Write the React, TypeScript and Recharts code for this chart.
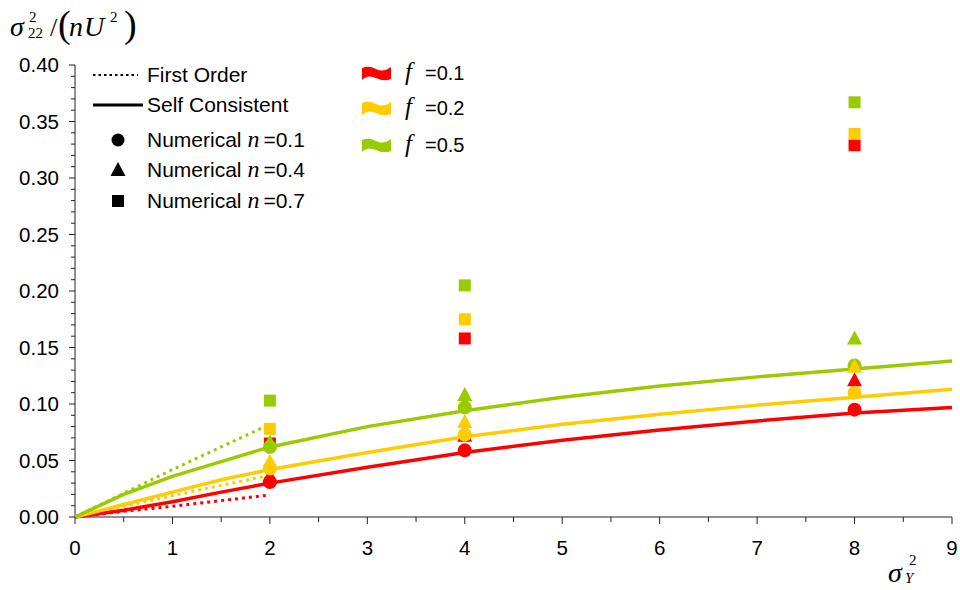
import React from "react"
import { ScatterChart, Scatter, XAxis, YAxis } from "recharts"

// sigma_Y^2 values for the curves
const xSelf = [0, 0.5, 1, 1.5, 2, 3, 4, 5, 6, 7, 8, 9]
const xFirst = [0, 0.5, 1, 1.5, 2]
const xNum = [2, 4, 8]

// self consistent (solid)
const selfRed = [0, 0.006, 0.0135, 0.022, 0.03, 0.044, 0.057, 0.068, 0.077, 0.085, 0.092, 0.097]
const selfYellow = [0, 0.011, 0.022, 0.033, 0.042, 0.057, 0.071, 0.082, 0.091, 0.099, 0.106, 0.113]
const selfGreen = [0, 0.02, 0.036, 0.049, 0.062, 0.08, 0.094, 0.106, 0.116, 0.124, 0.131, 0.138]

// first order (dotted)
const firstRed = [0, 0.005, 0.0095, 0.0145, 0.0195]
const firstYellow = [0, 0.0095, 0.019, 0.028, 0.037]
const firstGreen = [0, 0.021, 0.042, 0.062, 0.082]

// numerical, n = 0.1 (circle), 0.4 (triangle), 0.7 (square)
const circRed = [0.031, 0.059, 0.095]
const circYellow = [0.043, 0.073, 0.11]
const circGreen = [0.062, 0.097, 0.134]
const triRed = [0.036, 0.072, 0.121]
const triYellow = [0.049, 0.084, 0.133]
const triGreen = [0.066, 0.108, 0.158]
const sqRed = [0.065, 0.158, 0.329]
const sqYellow = [0.078, 0.175, 0.339]
const sqGreen = [0.103, 0.205, 0.367]

const xTicks = [0, 0.5, 1, 1.5, 2, 2.5, 3, 3.5, 4, 4.5, 5, 5.5, 6, 6.5, 7, 7.5, 8, 8.5, 9]
const yMajor = [0, 0.05, 0.1, 0.15, 0.2, 0.25, 0.3, 0.35, 0.4]
const yTicks = Array.from({ length: 41 }, (_, i) => i / 100)

const RED = "#FF0000"
const YELLOW = "#FFCC00"
const GREEN = "#99CC00"
const SANS = "'Liberation Sans', Arial, sans-serif"
const SERIF = "'Liberation Serif', 'Times New Roman', serif"

const pts = (xs: number[], ys: number[]) => xs.map((x, i) => ({ x, y: ys[i] }))

const NoDot = () => <g />
const CircleDot = (p: any) => <circle cx={p.cx} cy={p.cy} r={7} fill={p.fill} />
const TriDot = (p: any) => (
  <polygon points={`${p.cx},${p.cy - 8} ${p.cx + 7.5},${p.cy + 6} ${p.cx - 7.5},${p.cy + 6}`} fill={p.fill} />
)
const SquareDot = (p: any) => <rect x={p.cx - 6} y={p.cy - 6} width={12} height={12} fill={p.fill} />

const XTick = (p: any) => {
  const v = p.payload.value
  const major = Number.isInteger(v)
  return (
    <g>
      <line x1={p.x} x2={p.x} y1={p.y} y2={p.y + (major ? 7 : 5)} stroke="#222" />
      {major && (
        <text x={p.x} y={p.y + 38} textAnchor="middle" fontSize={20.5} fontFamily={SANS} fill="#000">
          {v}
        </text>
      )}
    </g>
  )
}

const YTick = (p: any) => {
  const v = p.payload.value
  const major = yMajor.some((m) => Math.abs(m - v) < 1e-6)
  return (
    <g>
      <line x1={p.x} x2={p.x - (major ? 6 : 4)} y1={p.y} y2={p.y} stroke="#222" />
      {major && (
        <text x={p.x - 16} y={p.y + 7} textAnchor="end" fontSize={20.5} fontFamily={SANS} fill="#000">
          {v.toFixed(2)}
        </text>
      )}
    </g>
  )
}

const Flag = ({ x, y, color }: { x: number; y: number; color: string }) => (
  <path
    d={`M${x},${y - 5} Q${x + 7},${y - 8} ${x + 14},${y - 4} T${x + 29},${y - 6} L${x + 29},${y + 6} Q${x + 22},${y + 9} ${x + 14},${y + 5} T${x},${y + 7} Z`}
    fill={color}
  />
)

const solid = (c: string) => ({ stroke: c, strokeWidth: 3.5 })
const dotted = (c: string) => ({ stroke: c, strokeWidth: 3, strokeDasharray: "3 4" })

export default function App() {
  return (
    <div style={{ position: "absolute", left: 0, top: 0, width: 960, height: 590, background: "#fff" }}>
      <ScatterChart width={960} height={590} margin={{ top: 65, right: 8, bottom: 0, left: 0 }}>
        <XAxis
          type="number"
          dataKey="x"
          domain={[0, 9]}
          ticks={xTicks}
          interval={0}
          height={73}
          tickSize={0}
          tickMargin={0}
          tickLine={false}
          axisLine={{ stroke: "#222" }}
          tick={XTick}
        />
        <YAxis
          type="number"
          dataKey="y"
          domain={[0, 0.4]}
          ticks={yTicks}
          interval={0}
          width={75}
          tickSize={0}
          tickMargin={0}
          tickLine={false}
          axisLine={{ stroke: "#222" }}
          tick={YTick}
        />
        <Scatter data={pts(xFirst, firstRed)} fill={RED} line={dotted(RED)} shape={NoDot} isAnimationActive={false} />
        <Scatter data={pts(xFirst, firstYellow)} fill={YELLOW} line={dotted(YELLOW)} shape={NoDot} isAnimationActive={false} />
        <Scatter data={pts(xFirst, firstGreen)} fill={GREEN} line={dotted(GREEN)} shape={NoDot} isAnimationActive={false} />
        <Scatter data={pts(xSelf, selfRed)} fill={RED} line={solid(RED)} shape={NoDot} isAnimationActive={false} />
        <Scatter data={pts(xSelf, selfYellow)} fill={YELLOW} line={solid(YELLOW)} shape={NoDot} isAnimationActive={false} />
        <Scatter data={pts(xSelf, selfGreen)} fill={GREEN} line={solid(GREEN)} shape={NoDot} isAnimationActive={false} />

        <Scatter data={pts(xNum, sqRed)} fill={RED} shape={SquareDot} isAnimationActive={false} />
        <Scatter data={pts(xNum, circRed)} fill={RED} shape={CircleDot} isAnimationActive={false} />
        <Scatter data={pts(xNum, triRed)} fill={RED} shape={TriDot} isAnimationActive={false} />
        <Scatter data={pts(xNum, sqGreen)} fill={GREEN} shape={SquareDot} isAnimationActive={false} />
        <Scatter data={pts(xNum, circGreen)} fill={GREEN} shape={CircleDot} isAnimationActive={false} />
        <Scatter data={pts(xNum, triGreen)} fill={GREEN} shape={TriDot} isAnimationActive={false} />
        <Scatter data={pts(xNum, sqYellow)} fill={YELLOW} shape={SquareDot} isAnimationActive={false} />
        <Scatter data={pts(xNum, circYellow)} fill={YELLOW} shape={CircleDot} isAnimationActive={false} />
        <Scatter data={pts(xNum, triYellow)} fill={YELLOW} shape={TriDot} isAnimationActive={false} />
      </ScatterChart>

      <svg width={960} height={590} style={{ position: "absolute", left: 0, top: 0, pointerEvents: "none" }}>
        {/* y axis title */}
        <g fontFamily={SERIF} fill="#000">
          <text x={10} y={36} fontSize={28} fontStyle="italic">σ</text>
          <text x={29} y={22} fontSize={15}>2</text>
          <text x={28} y={38} fontSize={15}>22</text>
          <text x={50} y={36} fontSize={26}>/</text>
          <text x={58} y={37} fontSize={38}>(</text>
          <text x={69} y={36} fontSize={28} fontStyle="italic">n</text>
          <text x={84} y={36} fontSize={28} fontStyle="italic">U</text>
          <text x={110} y={22} fontSize={15}>2</text>
          <text x={124} y={37} fontSize={38}>)</text>
        </g>
        {/* x axis title */}
        <g fontFamily={SERIF} fill="#000">
          <text x={888} y={582} fontSize={28} fontStyle="italic">σ</text>
          <text x={909} y={565} fontSize={15}>2</text>
          <text x={905} y={583} fontSize={15} fontStyle="italic">Y</text>
        </g>

        {/* line style legend */}
        <line x1={93} x2={138} y1={75} y2={75} stroke="#000" strokeWidth={2} strokeDasharray="2.5 3" />
        <line x1={93} x2={143} y1={105} y2={105} stroke="#000" strokeWidth={3} />
        <circle cx={118} cy={140} r={6.5} fill="#000" />
        <polygon points="118,162 125.5,176 110.5,176" fill="#000" />
        <rect x={112} y={195} width={12} height={12} fill="#000" />
        <g fontFamily={SANS} fontSize={21} fill="#000">
          <text x={147} y={82}>First Order</text>
          <text x={147} y={112}>Self Consistent</text>
          {["0.1", "0.4", "0.7"].map((n, i) => (
            <text key={n} x={147} y={[147, 177, 208][i]}>
              Numerical{" "}
              <tspan fontFamily={SERIF} fontStyle="italic" fontSize={24}>n</tspan>
              <tspan dx={4}>={n}</tspan>
            </text>
          ))}
        </g>

        {/* f legend */}
        {[RED, YELLOW, GREEN].map((c, i) => (
          <Flag key={c} x={362} y={[73, 108, 145][i]} color={c} />
        ))}
        {["0.1", "0.2", "0.5"].map((f, i) => (
          <text key={f} y={[73, 108, 145][i] + 7} fontSize={20} fontFamily={SANS} fill="#000">
            <tspan x={405} fontFamily={SERIF} fontStyle="italic" fontSize={25}>f</tspan>
            <tspan x={425}>={f}</tspan>
          </text>
        ))}
      </svg>
    </div>
  )
}
